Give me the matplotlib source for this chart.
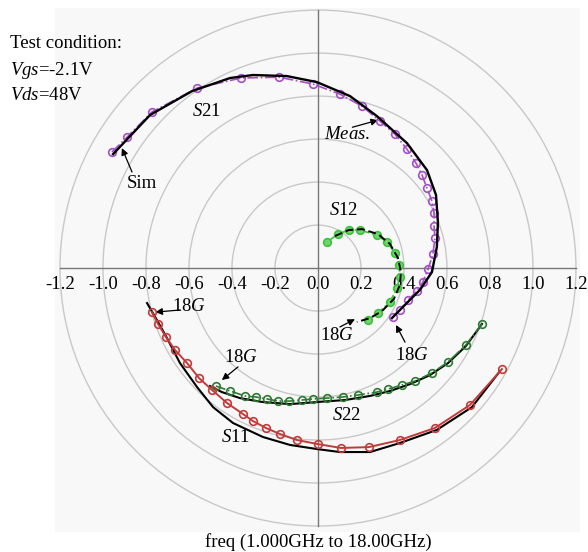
import matplotlib
matplotlib.use("Agg")
import matplotlib.pyplot as plt
from matplotlib.patches import Circle, Rectangle

plt.rcParams["font.family"] = "Liberation Serif"
plt.rcParams["mathtext.fontset"] = "custom"
plt.rcParams["mathtext.rm"] = "Liberation Serif"
plt.rcParams["mathtext.it"] = "Liberation Serif:italic"

# S-parameters, 1 GHz -> 18 GHz, real / imaginary parts
s21_meas_re = [-0.958, -0.888, -0.772, -0.563, -0.358, -0.181, -0.023, 0.102, 0.205, 0.288,
               0.358, 0.414, 0.456, 0.484, 0.507, 0.530, 0.540, 0.540, 0.544, 0.535,
               0.512, 0.488, 0.460, 0.419, 0.381, 0.349]
s21_meas_im = [0.540, 0.609, 0.726, 0.837, 0.884, 0.888, 0.856, 0.809, 0.753, 0.684,
               0.623, 0.553, 0.488, 0.433, 0.372, 0.312, 0.256, 0.195, 0.140, 0.065,
               -0.005, -0.065, -0.107, -0.149, -0.195, -0.228]
s21_sim_re = [-0.953, -0.781, -0.586, -0.409, -0.302, -0.144, -0.005, 0.149, 0.274, 0.414,
              0.507, 0.549, 0.558, 0.553, 0.530, 0.474, 0.395, 0.344]
s21_sim_im = [0.530, 0.712, 0.823, 0.884, 0.898, 0.893, 0.865, 0.800, 0.707, 0.581,
              0.456, 0.340, 0.214, 0.098, -0.019, -0.102, -0.181, -0.233]

s12_meas_re = [0.042, 0.093, 0.144, 0.195, 0.274, 0.321, 0.358, 0.377, 0.381, 0.367,
               0.335, 0.279, 0.233]
s12_meas_im = [0.121, 0.158, 0.177, 0.177, 0.153, 0.121, 0.070, 0.014, -0.042, -0.093,
               -0.158, -0.209, -0.242]
s12_sim_re = [0.079, 0.144, 0.205, 0.279, 0.335, 0.372, 0.386, 0.381, 0.353, 0.298, 0.242, 0.181]
s12_sim_im = [0.149, 0.177, 0.181, 0.158, 0.112, 0.047, -0.019, -0.079, -0.144, -0.200, -0.233, -0.251]

s22_meas_re = [0.763, 0.688, 0.605, 0.530, 0.451, 0.391, 0.326, 0.274, 0.186, 0.116,
               0.042, -0.023, -0.074, -0.135, -0.186, -0.237, -0.288, -0.340, -0.409, -0.474]
s22_meas_im = [-0.260, -0.358, -0.437, -0.488, -0.526, -0.544, -0.563, -0.577, -0.591, -0.600,
               -0.605, -0.609, -0.614, -0.619, -0.619, -0.609, -0.600, -0.595, -0.572, -0.549]
s22_sim_re = [0.763, 0.688, 0.605, 0.521, 0.428, 0.335, 0.242, 0.126, 0.000, -0.130,
              -0.260, -0.363, -0.447, -0.502]
s22_sim_im = [-0.260, -0.363, -0.442, -0.498, -0.540, -0.572, -0.595, -0.614, -0.623, -0.633,
              -0.623, -0.605, -0.577, -0.549]

s11_meas_re = [0.856, 0.707, 0.544, 0.381, 0.237, 0.107, 0.000, -0.098, -0.177, -0.242,
               -0.302, -0.349, -0.423, -0.493, -0.553, -0.609, -0.665, -0.707, -0.744, -0.772]
s11_meas_im = [-0.470, -0.637, -0.744, -0.800, -0.833, -0.837, -0.819, -0.800, -0.772, -0.744,
               -0.712, -0.679, -0.628, -0.567, -0.512, -0.442, -0.381, -0.321, -0.260, -0.205]
s11_sim_re = [0.847, 0.716, 0.553, 0.381, 0.242, 0.102, -0.005, -0.130, -0.256, -0.395,
              -0.488, -0.563, -0.642, -0.702, -0.749, -0.795]
s11_sim_im = [-0.479, -0.647, -0.753, -0.814, -0.856, -0.856, -0.842, -0.823, -0.786, -0.721,
              -0.647, -0.553, -0.442, -0.326, -0.242, -0.163]

rings = [0.2, 0.4, 0.6, 0.8, 1.0, 1.2]
ticks = [-1.2, -1.0, -0.8, -0.6, -0.4, -0.2, 0.0, 0.2, 0.4, 0.6, 0.8, 1.0, 1.2]

fig = plt.figure(figsize=(5.88, 5.52), dpi=100)
ax = fig.add_axes([0, 0, 1, 1])
ax.set_xlim(-1.479, 1.256)
ax.set_ylim(-1.321, 1.247)
ax.set_facecolor("white")

# plot background and polar rings
ax.add_patch(Rectangle((-1.225, -1.228), 2.445, 2.437, facecolor="#f8f8f8",
                       edgecolor="none", zorder=0))
for r in rings:
    ax.add_patch(Circle((0, 0), r, fill=False, edgecolor="#c8c8c8", lw=1.0, zorder=1))

# axes through the origin
for side in ["top", "right"]:
    ax.spines[side].set_visible(False)
ax.spines["left"].set_position("zero")
ax.spines["bottom"].set_position("zero")
ax.spines["left"].set_bounds(-1.2, 1.2)
ax.spines["bottom"].set_bounds(-1.2, 1.2)
for side in ["left", "bottom"]:
    ax.spines[side].set_color("#777777")
    ax.spines[side].set_linewidth(1.0)
    ax.spines[side].set_zorder(2)
ax.set_yticks([])
ax.set_xticks(ticks)
ax.set_xticklabels(["%.1f" % t for t in ticks])
ax.tick_params(axis="x", length=0, pad=6, labelsize=13.5)

purple = "#a54fc4"
lgreen = "#3fbf3f"
dgreen = "#2e7a33"
red = "#c23b3b"

# measured (coloured, markers) and simulated (black) traces
ax.plot(s21_meas_re, s21_meas_im, color=purple, ls="-.", lw=1.2, marker="o", ms=5.5,
        mfc="none", mew=1.2, zorder=4)
ax.plot(s21_sim_re, s21_sim_im, color="black", lw=1.7, zorder=5)

ax.plot(s12_meas_re, s12_meas_im, color=lgreen, ls="-.", lw=1.2, marker="o", ms=5.5,
        mfc="#6fd66f", mec=lgreen, mew=1.2, zorder=4)
ax.plot(s12_sim_re, s12_sim_im, color="black", ls=(0, (4, 2)), lw=1.4, zorder=5)

ax.plot(s22_meas_re, s22_meas_im, color=dgreen, ls="-.", lw=1.2, marker="o", ms=5.5,
        mfc="none", mew=1.2, zorder=4)
ax.plot(s22_sim_re, s22_sim_im, color="black", lw=1.5, zorder=3)

ax.plot(s11_meas_re, s11_meas_im, color=red, lw=1.4, marker="o", ms=5.5,
        mfc="none", mew=1.2, zorder=4)
ax.plot(s11_sim_re, s11_sim_im, color="black", lw=1.5, zorder=3)

# labels
fs = 13.5
ax.text(-1.431, 1.043, "Test condition:", fontsize=fs, va="center")
ax.text(-1.431, 0.921, "$Vgs$=-2.1V", fontsize=fs, va="center")
ax.text(-1.431, 0.805, "$Vds$=48V", fontsize=fs, va="center")
ax.text(0.0, -1.275, "freq (1.000GHz to 18.00GHz)", fontsize=fs, ha="center", va="center")

ax.text(-0.52, 0.73, "$S$21", fontsize=fs, ha="center", va="center")
ax.text(0.121, 0.27, "$S$12", fontsize=fs, ha="center", va="center")
ax.text(0.135, -0.685, "$S$22", fontsize=fs, ha="center", va="center")
ax.text(-0.385, -0.786, "$S$11", fontsize=fs, ha="center", va="center")

arrow = dict(arrowstyle="-|>", color="black", lw=0.9, mutation_scale=10, shrinkA=0, shrinkB=0)
ax.text(0.135, 0.619, "$Meas.$", fontsize=fs, ha="center", va="center")
ax.annotate("", xy=(0.279, 0.688), xytext=(0.16, 0.655), arrowprops=arrow)
ax.text(-0.819, 0.391, "Sim", fontsize=fs, ha="center", va="center")
ax.annotate("", xy=(-0.912, 0.558), xytext=(-0.865, 0.447), arrowprops=arrow)
ax.text(0.088, -0.316, "18$G$", fontsize=fs, ha="center", va="center")
ax.annotate("", xy=(0.172, -0.238), xytext=(0.102, -0.274), arrowprops=arrow)
ax.text(0.437, -0.405, "18$G$", fontsize=fs, ha="center", va="center")
ax.annotate("", xy=(0.363, -0.265), xytext=(0.405, -0.345), arrowprops=arrow)
ax.text(-0.6, -0.181, "18$G$", fontsize=fs, ha="center", va="center")
ax.annotate("", xy=(-0.756, -0.205), xytext=(-0.64, -0.195), arrowprops=arrow)
ax.text(-0.358, -0.414, "18$G$", fontsize=fs, ha="center", va="center")
ax.annotate("", xy=(-0.447, -0.521), xytext=(-0.372, -0.46), arrowprops=arrow)

fig.savefig("out.png", dpi=100)
